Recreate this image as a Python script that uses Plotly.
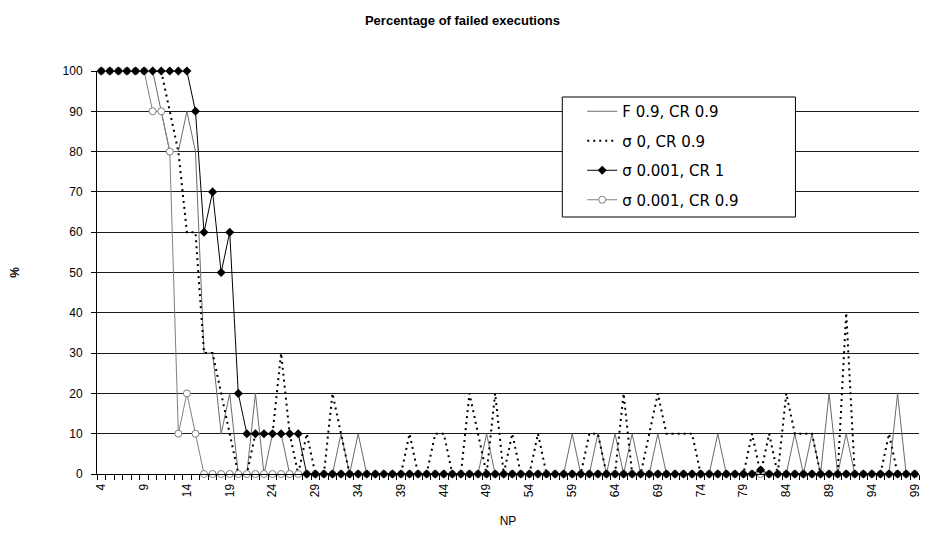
import plotly.graph_objects as go

np_values = list(range(4, 100))

f09_cr09 = [100, 100, 100, 100, 100, 100, 100, 90, 80, 80,   # 4-13
            90, 80, 30, 30, 10, 20, 0, 0, 20, 0,             # 14-23
            10, 10, 0, 0, 0, 0, 0, 0, 10, 0,                 # 24-33
            10, 0, 0, 0, 0, 0, 0, 0, 0, 0,                   # 34-43
            0, 0, 0, 0, 0, 10, 0, 0, 0, 0,                   # 44-53
            0, 0, 0, 0, 0, 10, 0, 0, 10, 0,                  # 54-63
            10, 0, 10, 0, 0, 10, 0, 0, 0, 0,                 # 64-73
            0, 0, 10, 0, 0, 0, 0, 0, 0, 0,                   # 74-83
            0, 10, 0, 10, 0, 20, 0, 10, 0, 0,                # 84-93
            0, 0, 0, 20, 0, 0]                               # 94-99

sigma0_cr09 = [100, 100, 100, 100, 100, 100, 100, 100, 90, 80,  # 4-13
               60, 60, 30, 30, 20, 10, 0, 0, 10, 10,            # 14-23
               10, 30, 10, 0, 10, 0, 0, 20, 10, 0,              # 24-33
               0, 0, 0, 0, 0, 0, 10, 0, 0, 10,                  # 34-43
               10, 0, 0, 20, 10, 0, 20, 0, 10, 0,               # 44-53
               0, 10, 0, 0, 0, 0, 0, 10, 10, 0,                 # 54-63
               0, 20, 0, 0, 10, 20, 10, 10, 10, 10,             # 64-73
               0, 0, 0, 0, 0, 0, 10, 0, 10, 0,                  # 74-83
               20, 10, 10, 10, 0, 0, 0, 40, 0, 0,               # 84-93
               0, 0, 10, 0, 0, 0]                               # 94-99

sigma0001_cr1 = [100] * 11 + [90, 60, 70, 50, 60, 20,            # 4-20
                 10, 10, 10, 10, 10, 10, 10] + [0] * 53 + [1] + [0] * 18   # 21-99

sigma0001_cr09 = [100, 100, 100, 100, 100, 100, 90, 90, 80, 10,  # 4-13
                  20, 10] + [0] * 84                             # 14-99

tick_np = list(range(4, 100, 5))

font_family = "Liberation Sans, Arial, sans-serif"
legend_family = "DejaVu Sans, Liberation Sans, sans-serif"

fig = go.Figure()

fig.add_trace(go.Scatter(
    x=np_values, y=f09_cr09, mode="lines", name="F 0.9, CR 0.9",
    line=dict(color="#6a6a6a", width=1), legendgroup="a", legendrank=1,
    cliponaxis=False))

fig.add_trace(go.Scatter(
    x=np_values, y=sigma0_cr09, mode="lines", name="σ 0, CR 0.9",
    line=dict(color="#000000", width=2, dash="2px,4px"), legendgroup="b",
    legendrank=2, cliponaxis=False))

fig.add_trace(go.Scatter(
    x=np_values, y=sigma0001_cr09, mode="lines+markers", name="σ 0.001, CR 0.9",
    line=dict(color="#808080", width=1),
    marker=dict(symbol="circle", size=7, color="#ffffff",
                line=dict(color="#808080", width=1)), legendgroup="d",
    legendrank=4, cliponaxis=False))

fig.add_trace(go.Scatter(
    x=np_values, y=sigma0001_cr1, mode="lines+markers", name="σ 0.001, CR 1",
    line=dict(color="#000000", width=1),
    marker=dict(symbol="diamond", size=7, color="#000000"), legendgroup="c",
    legendrank=3, cliponaxis=False))

# legend frame
fig.add_shape(type="rect", xref="paper", yref="paper",
              x0=(564 - 97) / 825, x1=(798 - 97) / 825,
              y0=(474 - 217) / 403, y1=(474 - 97) / 403,
              line=dict(color="#000000", width=1), fillcolor="#ffffff",
              layer="above")

fig.update_layout(
    width=925, height=540,
    margin=dict(l=97, r=3, t=71, b=66),
    paper_bgcolor="#ffffff", plot_bgcolor="#ffffff",
    font=dict(family=font_family, color="#000000", size=12),
    title=dict(text="<b>Percentage of failed executions</b>",
               x=0.5, xanchor="center", y=1 - 20 / 540, yanchor="middle",
               font=dict(size=13, family=font_family)),
    showlegend=True,
    legend=dict(x=(584 - 97) / 825, y=(474 - 95) / 403,
                xanchor="left", yanchor="top",
                bgcolor="rgba(0,0,0,0)", borderwidth=0,
                traceorder="grouped", tracegroupgap=7,
                font=dict(size=15, family=legend_family)),
    xaxis=dict(range=[3.5, 99.5], tickmode="array", tickvals=tick_np,
               ticktext=[str(v) for v in tick_np], tickangle=-90,
               ticks="", showgrid=False, zeroline=False,
               showline=True, linecolor="#000000", linewidth=1,
               ticklabelstandoff=4,
               tickfont=dict(size=12),
               minor=dict(tickmode="linear", tick0=3.5, dtick=1,
                          ticks="outside", ticklen=5, tickcolor="#000000",
                          showgrid=False),
               title=dict(text="NP", font=dict(size=12), standoff=20)),
    yaxis=dict(range=[0, 100], dtick=10, tick0=0,
               showgrid=True, gridcolor="#1a1a1a", gridwidth=1,
               zeroline=False, showline=True, linecolor="#000000",
               linewidth=1, ticks="outside", ticklen=5, tickcolor="#000000",
               ticklabelstandoff=6,
               tickfont=dict(size=12),
               title=dict(text="<b>%</b>", font=dict(size=12), standoff=40)),
)

fig.write_html("out.html")
